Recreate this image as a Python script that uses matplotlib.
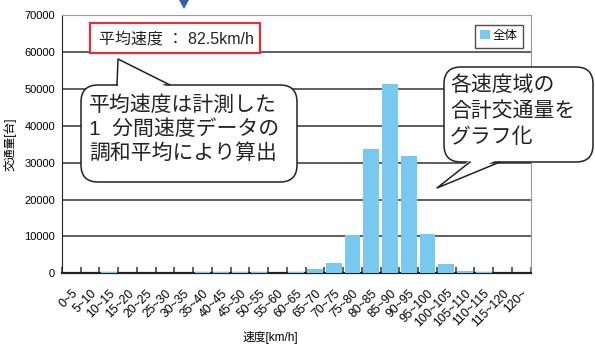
import matplotlib
matplotlib.use("Agg")
import matplotlib.pyplot as plt
from matplotlib.patches import FancyBboxPatch, Polygon, Rectangle
from matplotlib.transforms import Affine2D
import numpy as np

plt.rcParams['font.family'] = ['Liberation Sans', 'Noto Sans CJK JP']

# speed bands and total traffic per band
speed_labels = ['0~5', '5~10', '10~15', '15~20', '20~25', '25~30', '30~35', '35~40',
                '40~45', '45~50', '50~55', '55~60', '60~65', '65~70', '70~75', '75~80',
                '80~85', '85~90', '90~95', '95~100', '100~105', '105~110', '110~115',
                '115~120', '120~']
traffic = [0, 0, 250, 0, 0, 0, 0, 250, 250, 250, 250, 0, 250, 1100, 2800, 10400,
           33600, 51300, 31800, 10700, 2500, 650, 350, 0, 0]
y_ticks = [0, 10000, 20000, 30000, 40000, 50000, 60000, 70000]

W, H = 595, 345
fig = plt.figure(figsize=(W / 100, H / 100), dpi=100)
ax = fig.add_axes([62 / W, 1 - 273.3 / H, (530.5 - 62) / W, (273.3 - 15) / H])

x = np.arange(len(speed_labels))
ax.bar(x, traffic, width=0.84, color='#78c8f0', label='全体', zorder=3)
ax.set_xlim(-0.5, len(speed_labels) - 0.5)
ax.set_ylim(0, 70000)
ax.set_yticks(y_ticks)
ax.set_yticklabels([str(v) for v in y_ticks], fontsize=8)
ax.yaxis.grid(True, color='#333333', lw=1.1, zorder=1)
ax.set_axisbelow(True)

# x ticks sit on category boundaries, labels on category centres
ax.set_xticks(np.arange(len(speed_labels) + 1) - 0.5)
ax.set_xticklabels([])
ax.set_xticks(x, minor=True)
ax.set_xticklabels(speed_labels, minor=True, rotation=45, ha='right', va='top',
                   rotation_mode='anchor', fontsize=8.8)
ax.tick_params(axis='x', which='major', direction='in', length=4, width=1.2, color='#444444')
ax.tick_params(axis='x', which='minor', length=0, pad=10)
ax.tick_params(axis='y', length=0, pad=5)

for side in ['top', 'right']:
    ax.spines[side].set_color('#999999')
ax.spines['left'].set_color('#222222')
ax.spines['bottom'].set_color('#222222')
ax.spines['bottom'].set_linewidth(1.6)

ax.set_xlabel('速度[km/h]', fontsize=8.5)
ax.xaxis.set_label_coords(0.444, -0.222)
ax.set_ylabel('交通量[台]', fontsize=8.5)
ax.yaxis.set_label_coords(-0.097, 0.5)

leg = ax.legend(loc='upper right', bbox_to_anchor=(0.985, 0.963), fontsize=9,
                frameon=True, fancybox=False, handlelength=0.75, handleheight=0.75,
                handletextpad=0.25, borderpad=0.45, borderaxespad=0)
leg.get_frame().set_edgecolor('#222222')
leg.get_frame().set_linewidth(1.0)

# pixel coordinates measured from the top-left corner of the figure
tr = Affine2D().scale(1, -1).translate(0, H).scale(1 / W, 1 / H) + fig.transFigure


def bubble(left, top, right, bottom, base, apex, lines, x0, ys, size):
    box = FancyBboxPatch((left, top), right - left, bottom - top,
                         boxstyle='round,pad=0,rounding_size=17',
                         transform=tr, facecolor='white', edgecolor='#222222',
                         lw=1.1, zorder=10)
    fig.patches.append(box)
    (bx1, by1), (bx2, by2) = base
    inward = 3 if by1 < top + 1 else -3
    fill = Polygon([(bx1 + 1, by1 + inward), apex, (bx2 - 1, by2 + inward)], closed=True,
                   transform=tr, facecolor='white', edgecolor='none', zorder=11)
    fig.patches.append(fill)
    fig.lines.append(plt.Line2D([bx1, apex[0], bx2], [by1, apex[1], by2], transform=tr,
                                color='#222222', lw=1.1, zorder=12))
    for s, yy in zip(lines, ys):
        fig.text(x0, yy, s, transform=tr, fontsize=size, ha='left', va='center',
                 color='#222222', zorder=13)


bubble(81, 85, 297, 182, [(117, 85), (170, 85)], (118, 59),
       ['平均速度は計測した', '1  分間速度データの', '調和平均により算出'],
       89, [105, 129, 153], 15)
bubble(444, 67, 593, 162, [(470, 162), (500, 162)], (437, 188),
       ['各速度域の', '合計交通量を', 'グラフ化'],
       450, [85, 111, 137], 15)

# average speed box
fig.patches.append(Rectangle((90, 23), 170, 30, transform=tr, facecolor='white',
                             edgecolor='#e0303f', lw=1.6, zorder=10))
fig.text(176, 38.5, '平均速度 ： 82.5km/h', transform=tr, fontsize=11.5, ha='center',
         va='center', color='#222222', zorder=11)

# marker at the top edge
fig.patches.append(Polygon([(179, 0), (189, 0), (184, 9)], closed=True, transform=tr,
                           facecolor='#3b5ea8', edgecolor='none', zorder=10))

fig.savefig('out.png', dpi=100)
